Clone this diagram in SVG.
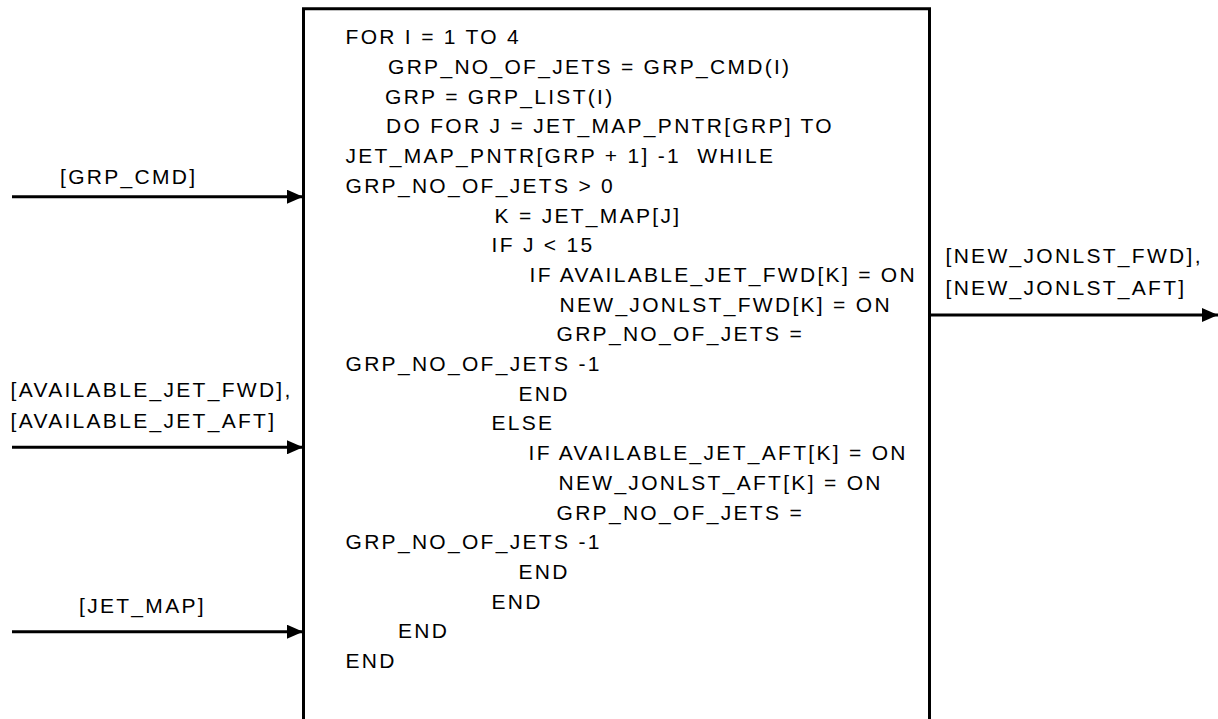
<svg xmlns="http://www.w3.org/2000/svg" width="1218" height="719" viewBox="0 0 1218 719">
<style>
text{font-family:"Liberation Sans",Arial,sans-serif;font-size:21px;letter-spacing:2.3px;fill:#000}
.pre{white-space:pre}
.ln{stroke:#000;stroke-width:3;fill:none}
.box{stroke:#000;stroke-width:3;fill:#fff}
</style>
<defs>
<marker id="ah" markerUnits="userSpaceOnUse" markerWidth="16" markerHeight="14" refX="16" refY="7" orient="auto">
<path d="M0,0 L16,7 L0,14 Z" fill="#000"/>
</marker>
</defs>
<g id="process">
<path class="box" d="M303.5 719 V8.7 H929.5 V719"/>
<text x="345.5" y="44.3">FOR I = 1 TO 4</text>
<text x="388" y="74">GRP_NO_OF_JETS = GRP_CMD(I)</text>
<text x="385" y="103.7">GRP = GRP_LIST(I)</text>
<text x="386" y="133.4">DO FOR J = JET_MAP_PNTR[GRP] TO</text>
<text class="pre" x="345.5" y="163.1">JET_MAP_PNTR[GRP + 1] -1  WHILE</text>
<text x="345.5" y="192.8">GRP_NO_OF_JETS &gt; 0</text>
<text x="494.5" y="222.5">K = JET_MAP[J]</text>
<text x="491.5" y="252.2">IF J &lt; 15</text>
<text x="529.5" y="281.9">IF AVAILABLE_JET_FWD[K] = ON</text>
<text x="559.5" y="311.6">NEW_JONLST_FWD[K] = ON</text>
<text x="556.5" y="341.3">GRP_NO_OF_JETS =</text>
<text x="345.5" y="371">GRP_NO_OF_JETS -1</text>
<text x="518.5" y="400.7">END</text>
<text x="491.5" y="430.4">ELSE</text>
<text x="528.5" y="460.1">IF AVAILABLE_JET_AFT[K] = ON</text>
<text x="558.5" y="489.8">NEW_JONLST_AFT[K] = ON</text>
<text x="556.5" y="519.5">GRP_NO_OF_JETS =</text>
<text x="345.5" y="549.2">GRP_NO_OF_JETS -1</text>
<text x="518.5" y="578.9">END</text>
<text x="491.5" y="608.6">END</text>
<text x="398" y="638.3">END</text>
<text x="345.5" y="668">END</text>
</g>
<g id="in-grp-cmd">
<text x="60" y="184.3">[GRP_CMD]</text>
</g>
<g id="in-available-jet">
<text x="10.5" y="396.7">[AVAILABLE_JET_FWD],</text>
<text x="10.5" y="428.3">[AVAILABLE_JET_AFT]</text>
</g>
<g id="in-jet-map">
<text x="79" y="613.3">[JET_MAP]</text>
</g>
<g id="out-new-jonlst">
<text x="945.5" y="262.5">[NEW_JONLST_FWD],</text>
<text x="945.5" y="294.5">[NEW_JONLST_AFT]</text>
</g>
<g id="connectors">
<line class="ln" x1="12" y1="196.7" x2="303" y2="196.7" marker-end="url(#ah)"/>
<line class="ln" x1="12" y1="447.3" x2="303" y2="447.3" marker-end="url(#ah)"/>
<line class="ln" x1="12" y1="631.7" x2="303" y2="631.7" marker-end="url(#ah)"/>
<line class="ln" x1="929.5" y1="315" x2="1218" y2="315" marker-end="url(#ah)"/>
</g>
</svg>
